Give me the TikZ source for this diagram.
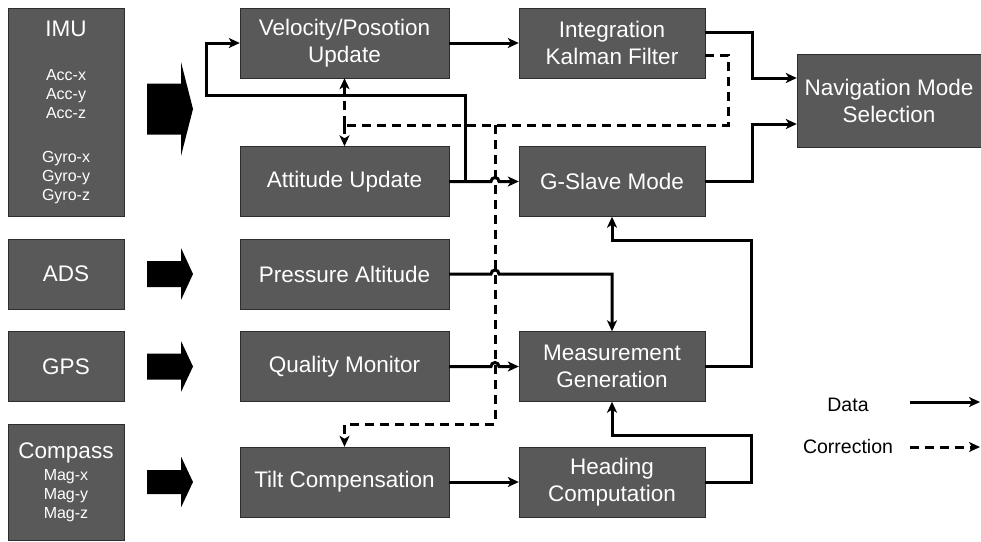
\documentclass[tikz,border=0pt]{standalone}
\usepackage{fontspec}
\setmainfont{Liberation Sans}
\usepackage{tikz}
\usetikzlibrary{arrows.meta}
\usetikzlibrary{calc}
\definecolor{boxgray}{RGB}{89,89,89}
\definecolor{boxedge}{RGB}{45,45,45}

\begin{document}
\begin{tikzpicture}[x=1pt,y=1pt]
	\useasboundingbox (0,0) rectangle (981,-541);
	% sensors
	\begin{scope}[every node/.style = {rectangle, draw=boxedge, fill=boxgray, text=white,
			align=center, inner sep=0pt, minimum width=116pt, minimum height=70pt,
			font=\fontsize{22.5}{27}\selectfont}]
		\node[minimum height=208pt, font=\fontsize{16}{19}\selectfont] (imu) at (66,-112)
			{{\fontsize{22.5}{27}\selectfont IMU}\\[25pt]Acc-x\\Acc-y\\Acc-z\\[25pt]Gyro-x\\Gyro-y\\Gyro-z};
		\node (ads) at (66,-274) {ADS};
		\node (gps) at (66,-366.5) {GPS};
		\node[minimum height=116pt, font=\fontsize{16}{19}\selectfont] (cmp) at (66,-482)
			{{\fontsize{22.5}{27}\selectfont Compass}\\[3pt]Mag-x\\Mag-y\\Mag-z};
	\end{scope}
	% processing blocks
	\begin{scope}[every node/.style = {rectangle, draw=boxedge, fill=boxgray, text=white,
			align=center, inner sep=0pt, minimum width=209pt, minimum height=70pt,
			font=\fontsize{22.5}{27}\selectfont}]
		\node (vel) at (344.5,-43) {Velocity/Posotion\\Update};
		\node (att) at (344.5,-181.5) {Attitude Update};
		\node (pa) at (344.5,-274) {Pressure Altitude};
		\node (qm) at (344.5,-366.5) {Quality Monitor};
		\node (tilt) at (344.5,-482) {Tilt Compensation};
		\node[minimum width=186pt] (ikf) at (612,-43) {Integration\\Kalman Filter};
		\node[minimum width=186pt] (gsl) at (612,-181.5) {G-Slave Mode};
		\node[minimum width=186pt] (meas) at (612,-366.5) {Measurement\\Generation};
		\node[minimum width=186pt] (head) at (612,-482) {Heading\\Computation};
		\node[minimum width=184pt, minimum height=93pt] (nav) at (889,-100.5) {Navigation Mode\\Selection};
	\end{scope}
	% sensor arrows
	\foreach \yc/\bh/\hh in {-109/25.5/47, -274/13/26, -366.5/13/25.5, -482/12/25.5}
		\fill (147,\yc+\bh) -- (181,\yc+\bh) -- (181,\yc+\hh) -- (193,\yc)
			-- (181,\yc-\hh) -- (181,\yc-\bh) -- (147,\yc-\bh) -- cycle;
	% legend
	\begin{scope}[every node/.style = {font=\fontsize{19.5}{23}\selectfont}]
		\node (ldata) at (848,-405) {Data};
		\node (lcorr) at (848,-447) {Correction};
	\end{scope}
	\coordinate (jmp) at (495,0);
	\coordinate (cbr) at (344.5,-125);
	\coordinate (cdn) at (495,-125);
	\coordinate (lda) at (910,-402);
	\coordinate (ldb) at (980,-402);
	\coordinate (lca) at (910,-447);
	\coordinate (lcb) at (980,-447);
	\begin{scope}[>={Stealth[length=11pt, width=10pt, inset=3pt]}, line width=3pt,
			corr/.style={dash pattern=on 9pt off 6pt}]
		% corrections
		\draw [corr] ([yshift=-12pt]ikf.east) -- ++(23,0) |- (cbr);
		\draw [corr, ->] (cbr) -- (vel.south);
		\draw [corr, ->] (cbr) -- (att.north);
		\draw [corr, ->] (cdn) -- (495,-424) -| (tilt.north);
		% data
		\draw [->] (vel.east) -- (ikf.west);
		\draw [->] (att.east) -- ($(att.east -| jmp)+(-4,0)$)
			arc[start angle=180, end angle=0, radius=4pt] -- (gsl.west);
		\coordinate (split) at ($(att.east)+(16,0)$);
		\draw [->] (split) -- ++(0,86) -- ++(-259,0) |- (vel.west);
		\draw [->] ([yshift=11pt]ikf.east) -- ++(47,0) |- ([yshift=22.5pt]nav.west);
		\draw [->] (gsl.east) -- ++(47,0) |- ([yshift=-23.5pt]nav.west);
		\draw [->] (pa.east) -- ($(pa.east -| jmp)+(-4,0)$)
			arc[start angle=180, end angle=0, radius=4pt] -| (meas.north);
		\draw [->] (qm.east) -- ($(qm.east -| jmp)+(-4,0)$)
			arc[start angle=180, end angle=0, radius=4pt] -- (meas.west);
		\draw [->] (meas.east) -- ++(46,0) -- ++(0,126.5) -| (gsl.south);
		\draw [->] (tilt.east) -- (head.west);
		\draw [->] (head.east) -- ++(46,0) -- ++(0,47) -| (meas.south);
		% legend lines
		\draw [->] (lda) -- (ldb);
		\draw [corr, ->] (lca) -- (lcb);
	\end{scope}
\end{tikzpicture}
\end{document}
